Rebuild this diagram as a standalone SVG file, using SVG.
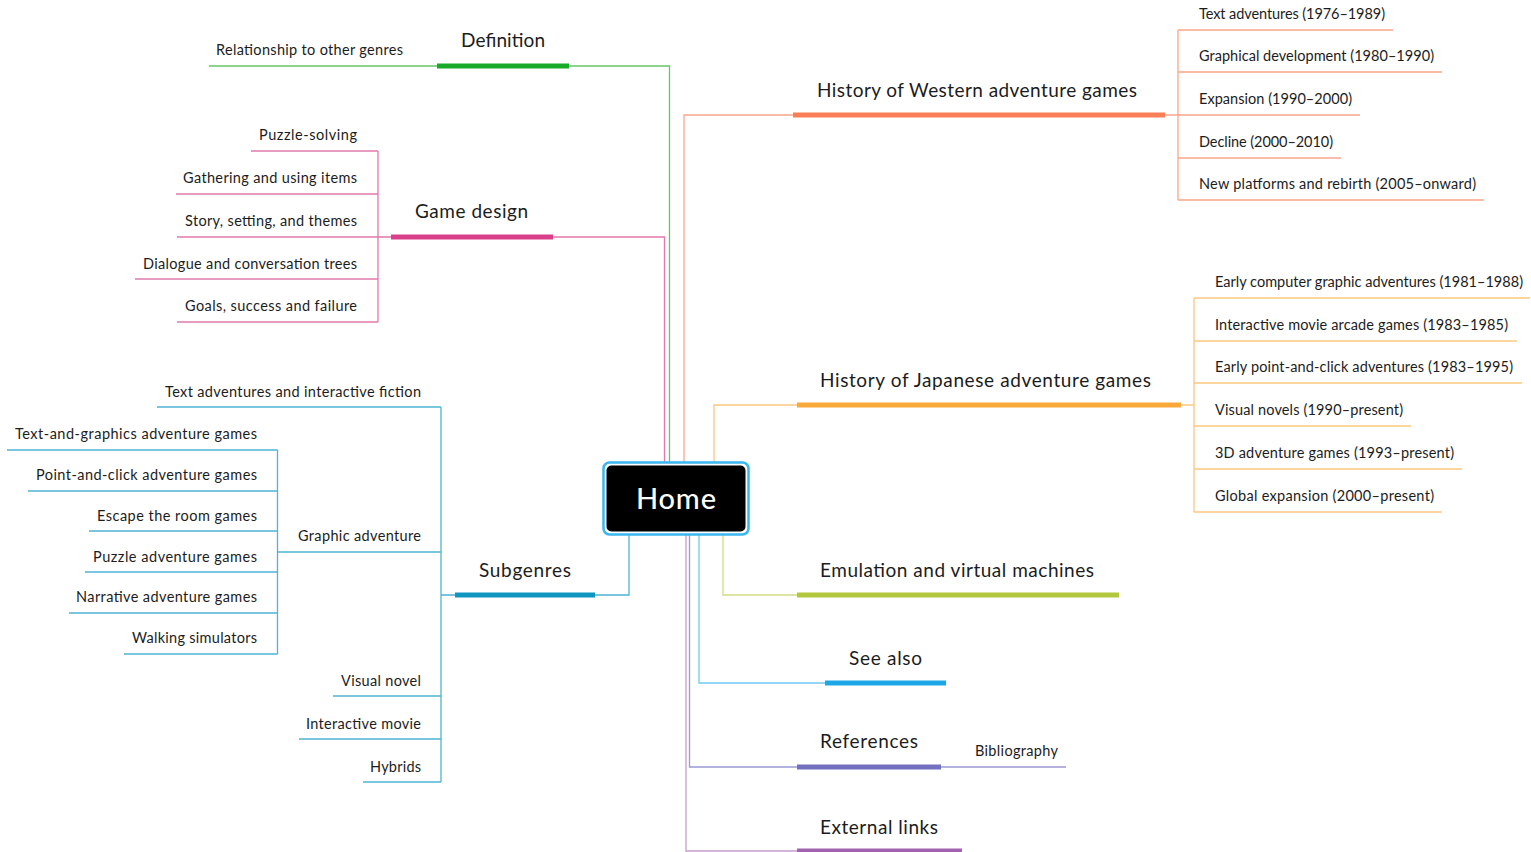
<svg xmlns="http://www.w3.org/2000/svg" width="1531" height="852" viewBox="0 0 1531 852">
<style>
text{font-family:Lato,"Noto Sans","Liberation Sans",sans-serif;fill:#1c1c1c}
.m{font-size:19px}
.c{font-size:14.5px}
.b{stroke-width:5;fill:none}
.l{stroke-width:1.3;fill:none}
.g1{stroke:#1aaa2a}.g2{stroke:#62c765}
.w1{stroke:#f97f56}.w2{stroke:#fba58a}
.p1{stroke:#d8408a}.p2{stroke:#e278ad}
.o1{stroke:#f9a83a}.o2{stroke:#fcc77f}
.s1{stroke:#0f95c0}.s2{stroke:#4fb3d4}
.e1{stroke:#b2c73b}.e2{stroke:#d0dc82}
.a1{stroke:#1ea7e6}.a2{stroke:#6fcaf2}
.r1{stroke:#7470c0}.r2{stroke:#9c99d5}
.x1{stroke:#a163b0}.x2{stroke:#c59ece}
</style>
<rect width="1531" height="852" fill="#fff"/>
<g id="connectors">
<path class="l g2" d="M669.5,462 V66 H569"/>
<path class="l w2" d="M684,462 V115 H793 M1165,115 H1178 M1178,30 V200"/>
<path class="l p2" d="M664.5,462 V237 H553 M391,237 H378 M378,151 V322"/>
<path class="l o2" d="M714,462 V405 H797 M1181,405 H1194 M1194,298 V512"/>
<path class="l s2" d="M629,535 V595 H595 M455,595 H441 M441,407 V782 M290,552 H277.5 M277.5,450 V654"/>
<path class="l e2" d="M723,535 V595 H797"/>
<path class="l a2" d="M699,535 V683 H825"/>
<path class="l r2" d="M689.5,535 V767 H797 M941,767 H967"/>
<path class="l x2" d="M686,535 V851 H797"/>
</g>
<g id="home">
<rect x="603.5" y="462.5" width="145" height="72" rx="6" fill="#fff" stroke="#3ab6f0" stroke-width="2.5"/>
<rect x="606.5" y="465.5" width="139" height="66" rx="5" fill="#000"/>
<text x="676" y="509" text-anchor="middle" style="font-size:29px;fill:#fff;font-weight:500" textLength="80">Home</text>
</g>
<g id="definition">
<path class="b g1" d="M437,66 H569"/>
<text class="m" x="461" y="47" textLength="84">Definition</text>
</g>
<g id="relationship">
<path class="l g2" d="M209,66 H437"/>
<text class="c" x="216" y="55" textLength="187">Relationship to other genres</text>
</g>
<g id="western">
<path class="b w1" d="M793,115 H1165"/>
<text class="m" x="817" y="97" textLength="320">History of Western adventure games</text>
</g>
<g id="w-text"><path class="l w2" d="M1178,30 H1393"/><text class="c" x="1199" y="19" textLength="186">Text adventures (1976–1989)</text></g>
<g id="w-graphical"><path class="l w2" d="M1178,72 H1442"/><text class="c" x="1199" y="61" textLength="235">Graphical development (1980–1990)</text></g>
<g id="w-expansion"><path class="l w2" d="M1178,115 H1360"/><text class="c" x="1199" y="104" textLength="153">Expansion (1990–2000)</text></g>
<g id="w-decline"><path class="l w2" d="M1178,158 H1341"/><text class="c" x="1199" y="147" textLength="134">Decline (2000–2010)</text></g>
<g id="w-new"><path class="l w2" d="M1178,200 H1484"/><text class="c" x="1199" y="189" textLength="277">New platforms and rebirth (2005–onward)</text></g>
<g id="gamedesign">
<path class="b p1" d="M391,237 H553"/>
<text class="m" x="415" y="218" textLength="113">Game design</text>
</g>
<g id="g-puzzle"><path class="l p2" d="M251,151 H378"/><text class="c" x="259" y="140" textLength="98">Puzzle-solving</text></g>
<g id="g-gathering"><path class="l p2" d="M176,194 H378"/><text class="c" x="183" y="183" textLength="174">Gathering and using items</text></g>
<g id="g-story"><path class="l p2" d="M177,237 H378"/><text class="c" x="185" y="226" textLength="172">Story, setting, and themes</text></g>
<g id="g-dialogue"><path class="l p2" d="M135,279 H378"/><text class="c" x="143" y="269" textLength="214">Dialogue and conversation trees</text></g>
<g id="g-goals"><path class="l p2" d="M177,322 H378"/><text class="c" x="185" y="311" textLength="172">Goals, success and failure</text></g>
<g id="japanese">
<path class="b o1" d="M797,405 H1181"/>
<text class="m" x="820" y="387" textLength="331">History of Japanese adventure games</text>
</g>
<g id="j-early"><path class="l o2" d="M1194,298 H1530"/><text class="c" x="1215" y="287" textLength="308">Early computer graphic adventures (1981–1988)</text></g>
<g id="j-movie"><path class="l o2" d="M1194,341 H1517"/><text class="c" x="1215" y="330" textLength="293">Interactive movie arcade games (1983–1985)</text></g>
<g id="j-point"><path class="l o2" d="M1194,383 H1522"/><text class="c" x="1215" y="372" textLength="298">Early point-and-click adventures (1983–1995)</text></g>
<g id="j-visual"><path class="l o2" d="M1194,426 H1411"/><text class="c" x="1215" y="415" textLength="188">Visual novels (1990–present)</text></g>
<g id="j-3d"><path class="l o2" d="M1194,469 H1462"/><text class="c" x="1215" y="458" textLength="239">3D adventure games (1993–present)</text></g>
<g id="j-global"><path class="l o2" d="M1194,512 H1442"/><text class="c" x="1215" y="501" textLength="219">Global expansion (2000–present)</text></g>
<g id="subgenres">
<path class="b s1" d="M455,595 H595"/>
<text class="m" x="479" y="577" textLength="92">Subgenres</text>
</g>
<g id="s-text"><path class="l s2" d="M157,407 H441"/><text class="c" x="165" y="397" textLength="256">Text adventures and interactive fiction</text></g>
<g id="s-graphic"><path class="l s2" d="M290,552 H441"/><text class="c" x="298" y="541" textLength="123">Graphic adventure</text></g>
<g id="s-visual"><path class="l s2" d="M333,696 H441"/><text class="c" x="341" y="686" textLength="80">Visual novel</text></g>
<g id="s-movie"><path class="l s2" d="M299,739 H441"/><text class="c" x="306" y="729" textLength="115">Interactive movie</text></g>
<g id="s-hybrids"><path class="l s2" d="M363,782 H441"/><text class="c" x="370" y="772" textLength="51">Hybrids</text></g>
<g id="ga-textgraphics"><path class="l s2" d="M7,450 H277.5"/><text class="c" x="15" y="439" textLength="242">Text-and-graphics adventure games</text></g>
<g id="ga-point"><path class="l s2" d="M28,491 H277.5"/><text class="c" x="36" y="480" textLength="221">Point-and-click adventure games</text></g>
<g id="ga-escape"><path class="l s2" d="M89,531 H277.5"/><text class="c" x="97" y="521" textLength="160">Escape the room games</text></g>
<g id="ga-puzzle"><path class="l s2" d="M85,572 H277.5"/><text class="c" x="93" y="562" textLength="164">Puzzle adventure games</text></g>
<g id="ga-narrative"><path class="l s2" d="M69,613 H277.5"/><text class="c" x="76" y="602" textLength="181">Narrative adventure games</text></g>
<g id="ga-walking"><path class="l s2" d="M124,654 H277.5"/><text class="c" x="132" y="643" textLength="125">Walking simulators</text></g>
<g id="emulation">
<path class="b e1" d="M797,595 H1119"/>
<text class="m" x="820" y="577" textLength="274">Emulation and virtual machines</text>
</g>
<g id="seealso">
<path class="b a1" d="M825,683 H946"/>
<text class="m" x="849" y="665" textLength="73">See also</text>
</g>
<g id="references">
<path class="b r1" d="M797,767 H941"/>
<text class="m" x="820" y="748" textLength="98">References</text>
</g>
<g id="bibliography"><path class="l r2" d="M967,767 H1066"/><text class="c" x="975" y="756" textLength="83">Bibliography</text></g>
<g id="external">
<path class="b x1" d="M797,851 H962"/>
<text class="m" x="820" y="834" textLength="118">External links</text>
</g>
</svg>
